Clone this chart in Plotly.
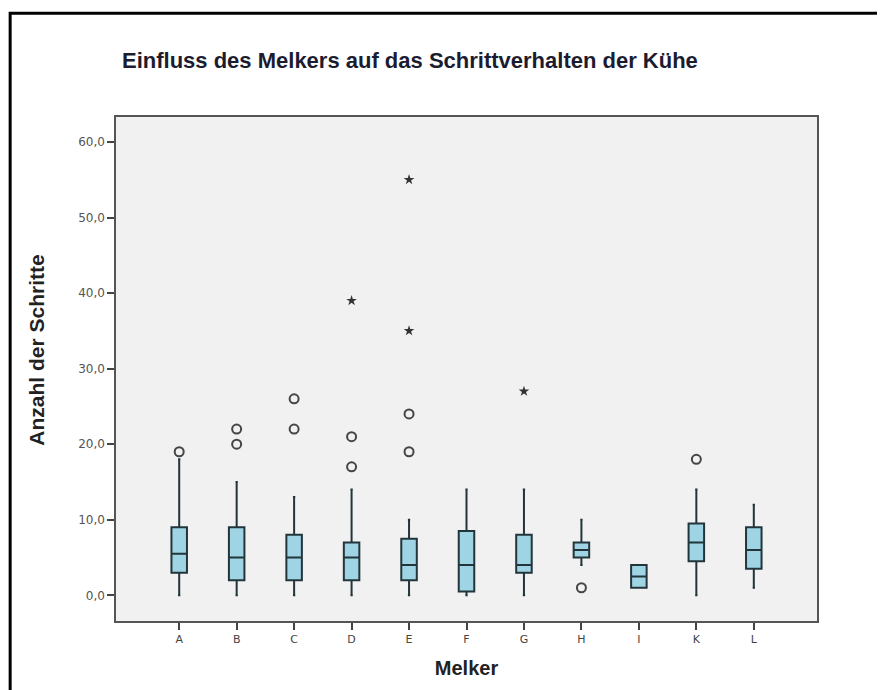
import plotly.graph_objects as go

categories = ["A", "B", "C", "D", "E", "F", "G", "H", "I", "K", "L"]
q1 = [3, 2, 2, 2, 2, 0.5, 3, 5, 1, 4.5, 3.5]
median = [5.5, 5, 5, 5, 4, 4, 4, 6, 2.5, 7, 6]
q3 = [9, 9, 8, 7, 7.5, 8.5, 8, 7, 4, 9.5, 9]
lower_whisker = [0, 0, 0, 0, 0, 0, 0, 4, 1, 0, 1]
upper_whisker = [18, 15, 13, 14, 10, 14, 14, 10, 4, 14, 12]

outlier_x = ["A", "B", "B", "C", "C", "D", "D", "E", "E", "H", "K"]
outlier_y = [19, 22, 20, 26, 22, 21, 17, 24, 19, 1, 18]

extreme_x = ["D", "E", "E", "G"]
extreme_y = [39, 55, 35, 27]

y_tickvals = [0, 10, 20, 30, 40, 50, 60]
y_ticktext = ["0,0", "10,0", "20,0", "30,0", "40,0", "50,0", "60,0"]

fig = go.Figure()
fig.add_trace(go.Box(
    x=categories, q1=q1, median=median, q3=q3,
    lowerfence=lower_whisker, upperfence=upper_whisker,
    boxpoints=False, width=0.27, whiskerwidth=0.15,
    fillcolor="#9fd4e4", line=dict(color="#22353b", width=2),
    showlegend=False, hoverinfo="skip",
))
fig.add_trace(go.Scatter(
    x=outlier_x, y=outlier_y, mode="markers",
    marker=dict(symbol="circle-open", size=9, color="#454545", line=dict(width=2, color="#454545")),
    showlegend=False,
))
fig.add_trace(go.Scatter(
    x=extreme_x, y=extreme_y, mode="markers",
    marker=dict(symbol="star", size=8, color="#333333"),
    showlegend=False,
))

fig.update_layout(
    width=877, height=682, autosize=False,
    margin=dict(l=108, r=68, t=109, b=69),
    paper_bgcolor="white", plot_bgcolor="#f1f1f1",
    font=dict(family="Liberation Sans, Arial, sans-serif", color="#333"),
    xaxis=dict(
        type="category", categoryorder="array", categoryarray=categories,
        range=[-1.1, 11.1], showgrid=False, zeroline=False,
        showline=True, mirror=True, linecolor="#555555", linewidth=1.5,
        ticks="outside", ticklen=7, tickcolor="#444", tickwidth=1.5,
        tickfont=dict(family="DejaVu Sans, sans-serif", size=11, color="#444"),
        title=dict(text="<b>Melker</b>", font=dict(size=20, color="#222"), standoff=16),
    ),
    yaxis=dict(
        range=[-3.4, 63.3], tickvals=y_tickvals, ticktext=y_ticktext,
        showgrid=False, zeroline=False,
        showline=True, mirror=True, linecolor="#555555", linewidth=1.5,
        ticks="outside", ticklen=7, tickcolor="#444", tickwidth=1.5,
        tickfont=dict(family="DejaVu Sans, sans-serif", size=12, color="#555"),
    ),
    annotations=[
        dict(
            text="<b>Einfluss des Melkers auf das Schrittverhalten der Kühe</b>",
            xref="paper", yref="paper", x=0.006, y=1.113,
            xanchor="left", yanchor="middle", showarrow=False,
            font=dict(size=22, color="#1c1c30"),
        ),
        dict(
            text="<b>Anzahl der Schritte</b>", textangle=-90,
            xref="paper", yref="paper", x=-0.113, y=0.538,
            xanchor="center", yanchor="middle", showarrow=False,
            font=dict(size=21, color="#222"),
        ),
    ],
    shapes=[dict(
        type="rect", xref="paper", yref="paper",
        x0=-0.151, x1=1.3, y0=-0.3, y1=1.206,
        line=dict(color="black", width=3), layer="below",
    )],
)

fig.write_html("out.html")
